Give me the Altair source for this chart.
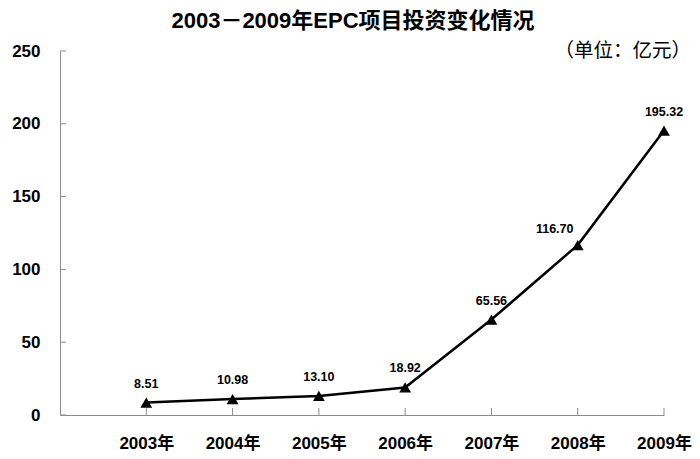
import pandas as pd
import altair as alt

years = [2003, 2004, 2005, 2006, 2007, 2008, 2009]
invest = [8.51, 10.98, 13.10, 18.92, 65.56, 116.70, 195.32]
labels = ["8.51", "10.98", "13.10", "18.92", "65.56", "116.70", "195.32"]
y_ticks = [0, 50, 100, 150, 200, 250]

title_text = "2003－2009年EPC项目投资变化情况"
unit_text = "（单位：亿元）"

FONT = "Liberation Sans, Noto Sans CJK SC"
GREY = "#8c8c8c"
W, H = 604, 364

df = pd.DataFrame({"year": years, "value": invest, "label": labels})
ticks_df = pd.DataFrame({"tick": y_ticks})

x_scale = alt.Scale(domain=[2002, 2009], nice=False, zero=False)
y_scale = alt.Scale(domain=[0, 250], nice=False)

base = alt.Chart(df).encode(
    alt.X("year:Q", scale=x_scale,
          axis=alt.Axis(values=years, labelExpr="datum.value + '年'", ticks=False,
                        grid=False, domainColor=GREY, labelFontSize=17,
                        labelFontWeight="bold", labelFont=FONT, labelColor="black",
                        labelPadding=20, title=None, labelFlush=False)),
    alt.Y("value:Q", scale=y_scale,
          axis=alt.Axis(values=y_ticks, ticks=False, grid=False, domainColor=GREY,
                        labelFontSize=17, labelFontWeight="bold", labelFont=FONT,
                        labelColor="black", labelPadding=20, title=None)),
)

line = base.mark_line(color="black", strokeWidth=2.5)
pts = base.mark_point(shape="triangle-up", filled=True, color="black", size=140, opacity=1)
txt = base.mark_text(dy=-19, fontSize=12.5, fontWeight="bold", font=FONT, color="black").encode(
    text="label:N").transform_filter("datum.year != 2008")
# the 2008 label sits left of its point, clear of the line
txt08 = base.mark_text(dx=-23, dy=-16, fontSize=12.5, fontWeight="bold", font=FONT,
                       color="black").encode(text="label:N").transform_filter("datum.year == 2008")

# inward tick marks
x_ticks = alt.Chart(df).mark_rule(color=GREY, strokeWidth=1).encode(
    x=alt.X("year:Q", scale=x_scale), y=alt.value(H), y2=alt.value(H - 7))
y_tick_marks = alt.Chart(ticks_df).mark_rule(color=GREY, strokeWidth=1).encode(
    y=alt.Y("tick:Q", scale=y_scale), x=alt.value(0), x2=alt.value(6))

title = alt.Chart(pd.DataFrame({"t": [title_text]})).mark_text(
    fontSize=22, fontWeight="bold", font=FONT, color="black", baseline="middle"
).encode(text="t:N", x=alt.value(293), y=alt.value(-30))

unit = alt.Chart(pd.DataFrame({"t": [unit_text]})).mark_text(
    fontSize=19.5, font="Noto Sans CJK SC", color="black", align="right", baseline="middle"
).encode(text="t:N", x=alt.value(631), y=alt.value(0))

chart = alt.layer(x_ticks, y_tick_marks, line, pts, txt, txt08, title, unit).properties(
    width=W, height=H,
    autosize=alt.AutoSizeParams(type="none"),
    padding={"left": 52, "top": 43, "right": 28, "bottom": 36},
).configure_view(stroke=None)

chart.save("out.html", embed_options={"renderer": "svg", "actions": False})
